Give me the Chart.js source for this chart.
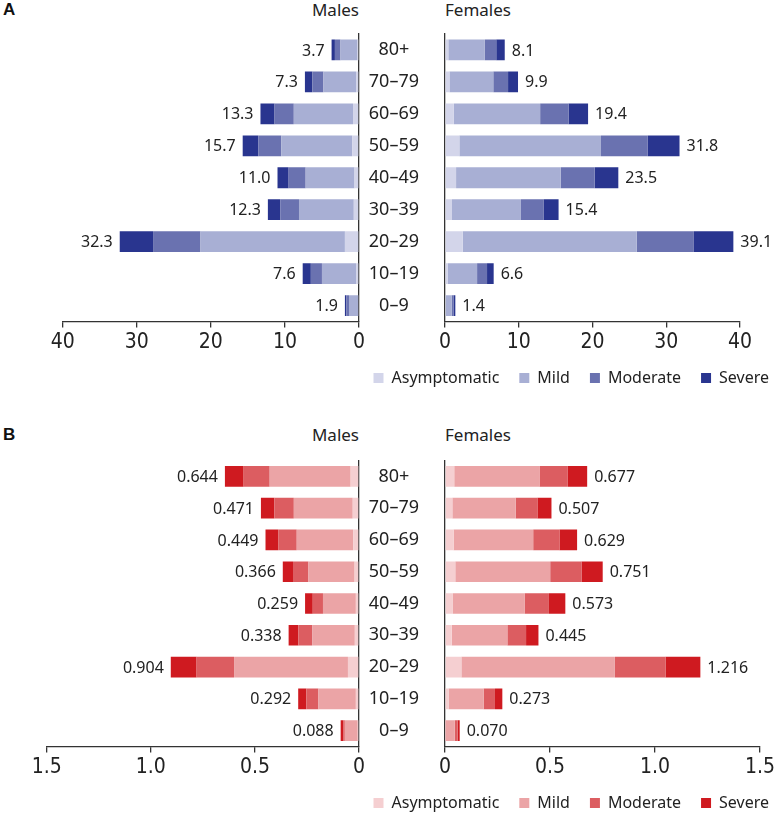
<!DOCTYPE html>
<html>
<head>
<meta charset="UTF-8">
<script src="https://cdn.jsdelivr.net/npm/chart.js@4"></script>
<style>
  body { margin:0; width:774px; height:814px; overflow:hidden; background:#fff; position:relative; font-family:"Noto Sans", sans-serif; color:#222; }
  .box { position:absolute; }
  .ttl { position:absolute; font-size:17px; line-height:20px; white-space:nowrap; }
  .pl { position:absolute; font-family:"Liberation Sans", Arial, sans-serif; font-weight:bold; font-size:17px; line-height:20px; color:#111; }
</style>
</head>
<body>
<div class="pl" style="left:3px;top:0">A</div>
<div class="ttl" style="right:415px;top:0">Males</div>
<div class="ttl" style="left:445px;top:0">Females</div>
<div class="pl" style="left:3px;top:425px">B</div>
<div class="ttl" style="right:415px;top:425px">Males</div>
<div class="ttl" style="left:445px;top:425px">Females</div>

<div class="box" style="left:0;top:0;width:367px;height:420px"><canvas id="aMale"></canvas></div>
<div class="box" style="left:300px;top:0;width:489px;height:420px"><canvas id="aFemale"></canvas></div>
<div class="box" style="left:0;top:400px;width:367px;height:430px"><canvas id="bMale"></canvas></div>
<div class="box" style="left:300px;top:400px;width:489px;height:430px"><canvas id="bFemale"></canvas></div>

<script>
const ageGroups = ['80+', '70–79', '60–69', '50–59', '40–49', '30–39', '20–29', '10–19', '0–9'];
const severity = ['Asymptomatic', 'Mild', 'Moderate', 'Severe'];
const blues = ['#d3d5ea', '#a8afd4', '#6a72b0', '#29358f'];
const reds = ['#f5cfd1', '#eba4a6', '#dc5d61', '#cf1a20'];

// A - males
const aMaleAsym = [0.2, 0.4, 0.8, 0.9, 0.6, 0.7, 1.9, 0.4, 0.1];
const aMaleMild = [2.3, 4.4, 8.0, 9.6, 6.6, 7.4, 19.5, 4.6, 1.25];
const aMaleMod  = [0.75, 1.5, 2.6, 3.1, 2.3, 2.5, 6.4, 1.5, 0.35];
const aMaleSev  = [0.45, 1.0, 1.9, 2.1, 1.5, 1.7, 4.5, 1.1, 0.2];
const aMaleTotals = ['3.7', '7.3', '13.3', '15.7', '11.0', '12.3', '32.3', '7.6', '1.9'];
// A - females
const aFemaleAsym = [0.45, 0.6, 1.2, 1.95, 1.5, 0.95, 2.4, 0.35, 0.1];
const aFemaleMild = [4.95, 5.95, 11.7, 19.2, 14.2, 9.35, 23.6, 4.0, 0.8];
const aFemaleMod  = [1.55, 2.0, 3.85, 6.35, 4.6, 3.05, 7.75, 1.35, 0.25];
const aFemaleSev  = [1.15, 1.35, 2.65, 4.3, 3.2, 2.05, 5.35, 0.9, 0.25];
const aFemaleTotals = ['8.1', '9.9', '19.4', '31.8', '23.5', '15.4', '39.1', '6.6', '1.4'];
// B - males
const bMaleAsym = [0.04, 0.03, 0.028, 0.021, 0.015, 0.02, 0.053, 0.015, 0.006];
const bMaleMild = [0.389, 0.283, 0.271, 0.222, 0.158, 0.205, 0.547, 0.18, 0.062];
const bMaleMod  = [0.125, 0.094, 0.089, 0.074, 0.049, 0.066, 0.18, 0.058, 0.008];
const bMaleSev  = [0.09, 0.064, 0.061, 0.049, 0.037, 0.047, 0.124, 0.039, 0.012];
const bMaleTotals = ['0.644', '0.471', '0.449', '0.366', '0.259', '0.338', '0.904', '0.292', '0.088'];
// B - females
const bFemaleAsym = [0.044, 0.035, 0.041, 0.049, 0.036, 0.032, 0.078, 0.017, 0.002];
const bFemaleMild = [0.406, 0.302, 0.379, 0.452, 0.343, 0.265, 0.731, 0.167, 0.044];
const bFemaleMod  = [0.135, 0.103, 0.125, 0.149, 0.116, 0.089, 0.241, 0.054, 0.014];
const bFemaleSev  = [0.092, 0.067, 0.084, 0.101, 0.078, 0.059, 0.166, 0.035, 0.010];
const bFemaleTotals = ['0.677', '0.507', '0.629', '0.751', '0.573', '0.445', '1.216', '0.273', '0.070'];

const axisMax = [40, 1.5];
const axisStep = [10, 0.5];

Chart.defaults.font.family = '"Noto Sans", sans-serif';
Chart.defaults.color = '#222';
Chart.defaults.animation = false;

const INK = '#333';
const tickFont = { family: '"Liberation Sans Narrow", "Arial Narrow", "DejaVu Sans Condensed", sans-serif', size: 21 };

// total at the end of each bar
const totalsPlugin = {
  id: 'totals',
  afterDatasetsDraw(chart, args, opts) {
    const { ctx, scales: { x, y } } = chart;
    ctx.save();
    ctx.font = '16px "Noto Sans", sans-serif';
    ctx.fillStyle = '#222';
    ctx.textBaseline = 'middle';
    ctx.textAlign = opts.side === 'male' ? 'right' : 'left';
    opts.labels.forEach((txt, i) => {
      const sum = chart.data.datasets.reduce((s, d) => s + d.data[i], 0);
      const px = x.getPixelForValue(sum) + (opts.side === 'male' ? -7 : 7);
      ctx.fillText(txt, px, y.getPixelForValue(i) + 1);
    });
    ctx.restore();
  }
};

function makeChart(id, side, series, colors, totals, max, step, fmt, area) {
  const male = side === 'male';
  const scales = {
    x: {
      type: 'linear', stacked: true, min: 0, max: max, reverse: male,
      border: { display: true, color: INK, width: 1.3 },
      grid: { drawOnChartArea: false, drawTicks: true, tickLength: 6, color: INK, lineWidth: 1.3 },
      ticks: { stepSize: step, padding: 2, maxRotation: 0, color: '#222', font: tickFont, callback: fmt },
      afterFit(s) { s.height = 28.5; }
    },
    y: {
      type: 'category', stacked: true, position: male ? 'right' : 'left',
      border: { display: true, color: INK, width: 1.3 },
      grid: { display: false },
      ticks: male ? { display: false } : { display: true, crossAlign: 'center', padding: 18, color: '#222', font: { size: 18 } },
      afterFit(s) { s.width = male ? 8 : 145; }
    }
  };
  if (!male) {
    scales.yPad = {
      type: 'category', position: 'right', display: true,
      border: { display: false }, grid: { display: false }, ticks: { display: false },
      afterFit(s) { s.width = area.padRight; }
    };
  }
  const chart = new Chart(document.getElementById(id), {
    type: 'bar',
    data: {
      labels: ageGroups,
      datasets: series.map((d, k) => ({
        label: severity[k], data: d, backgroundColor: colors[k], borderWidth: 0,
        barPercentage: 0.65, categoryPercentage: 1
      }))
    },
    options: {
      indexAxis: 'y',
      responsive: true,
      maintainAspectRatio: false,
      layout: { padding: { left: male ? area.left : 0, right: 0, top: area.top, bottom: 0 } },
      scales: scales,
      plugins: {
        tooltip: { enabled: false },
        legend: {
          display: !male, position: 'bottom', align: 'end',
          labels: { boxWidth: 10, boxHeight: 10, padding: 20, color: '#222', font: { size: 16 } }
        },
        totals: { side: side, labels: totals }
      }
    },
    plugins: [totalsPlugin]
  });
  // pin the plot area to the wanted top / bottom
  const p = chart.options.layout.padding;
  p.top += area.top - chart.chartArea.top;
  p.bottom += chart.chartArea.bottom - area.bottom;
  chart.update();
  return chart;
}

const fmtA = v => String(v);
const fmtB = v => v === 0 ? '0' : v.toFixed(1);

makeChart('aMale', 'male', [aMaleAsym, aMaleMild, aMaleMod, aMaleSev], blues, aMaleTotals,
  axisMax[0], axisStep[0], fmtA, { left: 62.7, top: 34, bottom: 321.5 });
makeChart('aFemale', 'female', [aFemaleAsym, aFemaleMild, aFemaleMod, aFemaleSev], blues, aFemaleTotals,
  axisMax[0], axisStep[0], fmtA, { top: 34, bottom: 321.5, padRight: 49 });
makeChart('bMale', 'male', [bMaleAsym, bMaleMild, bMaleMod, bMaleSev], reds, bMaleTotals,
  axisMax[1], axisStep[1], fmtB, { left: 46.7, top: 60.5, bottom: 346.5 });
makeChart('bFemale', 'female', [bFemaleAsym, bFemaleMild, bFemaleMod, bFemaleSev], reds, bFemaleTotals,
  axisMax[1], axisStep[1], fmtB, { top: 60.5, bottom: 346.5, padRight: 29 });
</script>
</body>
</html>
